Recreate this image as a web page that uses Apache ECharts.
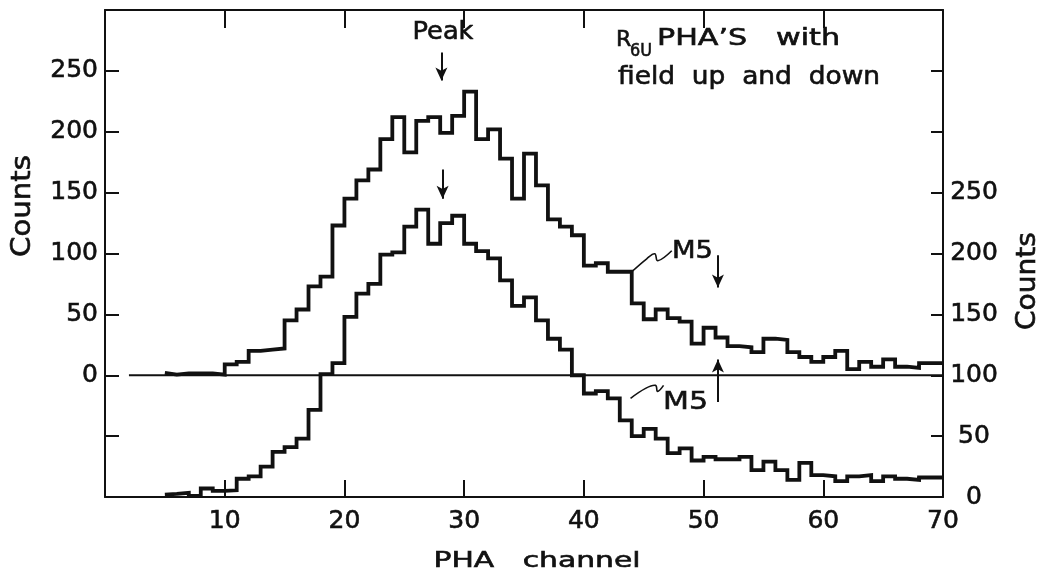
<!DOCTYPE html>
<html>
<head>
<meta charset="utf-8">
<script src="https://cdn.jsdelivr.net/npm/echarts@6/dist/echarts.min.js"></script>
<style>
  html, body { margin: 0; padding: 0; background: #ffffff; }
  #chart { width: 1045px; height: 582px; }
</style>
</head>
<body>
<div id="chart"></div>
<script>
// PHA channel of each histogram bin (bin covers [channel, channel + 1))
const channels = [
  5, 6, 7, 8, 9, 10, 11, 12, 13, 14, 15, 16, 17, 18, 19, 20, 21, 22, 23, 24,
  25, 26, 27, 28, 29, 30, 31, 32, 33, 34, 35, 36, 37, 38, 39, 40, 41, 42, 43, 44,
  45, 46, 47, 48, 49, 50, 51, 52, 53, 54, 55, 56, 57, 58, 59, 60, 61, 62, 63, 64,
  65, 66, 67, 68, 69
];
const lastEdge = 70;

// Upper spectrum, read against the left-hand Counts scale
const upperCounts = [
  2, 0.5, 1.5, 1.5, 1.5, 0.5, 9, 11, 20, 21, 22, 45, 54, 73, 81, 123, 145, 160, 169, 194,
  212, 183, 209, 212, 199, 213, 233, 194, 202, 178, 145, 182, 156, 128, 122, 115, 90, 92, 85, 85,
  59, 46, 54, 47, 44, 26, 39, 31, 24, 23, 19, 30, 29, 19, 15, 11, 15, 20, 5, 11,
  7, 13, 7, 6, 10
];

// Lower spectrum, read against the right-hand Counts scale
const lowerCounts = [
  2, 2.5, 3.5, 1, 7, 5, 5.5, 15, 17, 25, 37, 41, 48, 71.5, 101, 110, 148, 167, 175, 199,
  201, 222, 236, 208, 225, 231, 208, 202, 196, 178, 157, 164, 145, 130, 121, 100, 85, 87, 81, 63,
  50, 56, 48, 36, 40, 30, 33, 31, 31, 33, 22, 29, 22, 14, 28, 18, 17, 13, 17, 18,
  13, 17, 15, 14, 16
];

// Labelled ticks
const xTickLabels = [10, 20, 30, 40, 50, 60, 70];
const leftTickLabels = [0, 50, 100, 150, 200, 250];
const rightTickLabels = [0, 50, 100, 150, 200, 250];

// Zero line of the upper spectrum (left scale)
const baseline = [[2, 0], [70, 0]];

// Arrow annotations: [channel, from, to] on the left scale
const arrows = [
  [28.1, 265, 242],   // "Peak" arrow
  [28.2, 169, 145],   // peak of the lower spectrum
  [51.2, 98.6, 72],   // M5 on the upper spectrum
  [51.2, -22, 13]     // M5 on the lower spectrum
];

const FONT = "'DejaVu Sans', 'Liberation Sans', sans-serif";
const INK = '#111111';

function steps(values) {
  const pts = channels.map((c, i) => [c, values[i]]);
  pts.push([lastEdge, values[values.length - 1]]);
  return pts;
}

const chart = echarts.init(document.getElementById('chart'), null, { renderer: 'canvas' });

const axisLine = { show: true, onZero: false, lineStyle: { color: INK, width: 2 } };
const tickStyle = { color: INK, width: 2 };
const tickText = {
  show: true, color: INK, fontSize: 25, fontFamily: FONT,
  textBorderColor: INK, textBorderWidth: 0.6,
  showMinLabel: true, showMaxLabel: true
};

chart.setOption({
  animation: false,
  backgroundColor: '#ffffff',
  grid: { left: 105, right: 102, top: 10, bottom: 85, outerBoundsMode: 'none', containLabel: false },
  xAxis: [
    {
      type: 'value', min: 0, max: 70, interval: 10, position: 'bottom',
      axisLine: axisLine,
      axisTick: { show: true, inside: true, length: 17, lineStyle: tickStyle },
      axisLabel: Object.assign({}, tickText, {
        margin: 12,
        formatter: v => xTickLabels.includes(v) ? String(v) : ''
      }),
      splitLine: { show: false }
    },
    {
      type: 'value', min: 0, max: 70, interval: 10, position: 'top',
      axisLine: axisLine,
      axisTick: { show: true, inside: true, length: 18, lineStyle: tickStyle },
      axisLabel: { show: false },
      splitLine: { show: false }
    }
  ],
  yAxis: [
    {
      type: 'value', min: -100, max: 300, interval: 50, position: 'left',
      axisLine: axisLine,
      axisTick: { show: true, inside: true, length: 14, lineStyle: tickStyle },
      axisLabel: Object.assign({}, tickText, {
        margin: 7,
        formatter: v => leftTickLabels.includes(v) ? String(v) : ''
      }),
      splitLine: { show: false }
    },
    {
      type: 'value', min: 0, max: 400, interval: 50, position: 'right',
      axisLine: axisLine,
      axisTick: { show: true, inside: true, length: 12, lineStyle: tickStyle },
      axisLabel: Object.assign({}, tickText, {
        margin: 31, align: 'center',
        formatter: v => rightTickLabels.includes(v) ? String(v) : ''
      }),
      splitLine: { show: false }
    }
  ],
  series: [
    {
      name: 'baseline', type: 'line', xAxisIndex: 0, yAxisIndex: 0,
      data: baseline, showSymbol: false, symbol: 'none', silent: true,
      lineStyle: { color: INK, width: 2 }, z: 2
    },
    {
      name: 'upper', type: 'line', xAxisIndex: 0, yAxisIndex: 0,
      data: steps(upperCounts), step: 'start', showSymbol: false, symbol: 'none',
      lineStyle: { color: INK, width: 3.8, join: 'miter' }, z: 3,
      emphasis: { disabled: true },
      markLine: {
        silent: true, animation: false,
        symbol: ['none', 'arrow'], symbolSize: [9, 13],
        label: { show: false },
        lineStyle: { color: INK, width: 2, type: 'solid' },
        emphasis: { disabled: true },
        data: arrows.map(a => [{ coord: [a[0], a[1]] }, { coord: [a[0], a[2]] }])
      }
    },
    {
      name: 'lower', type: 'line', xAxisIndex: 0, yAxisIndex: 1,
      data: steps(lowerCounts), step: 'start', showSymbol: false, symbol: 'none',
      lineStyle: { color: INK, width: 3.8, join: 'miter' }, z: 3,
      emphasis: { disabled: true }
    }
  ]
});

// ---- text and leader annotations ----
const measureCtx = document.createElement('canvas').getContext('2d');
function textWidth(text, font) {
  measureCtx.font = font;
  return measureCtx.measureText(text).width;
}
function label(text, size, x, y, width, align, rotation) {
  const font = size + 'px ' + FONT;
  const s = width ? width / textWidth(text, font) : 1;
  return {
    type: 'text', x: x, y: y, rotation: rotation || 0,
    scaleX: s, scaleY: 1, silent: true, z: 10,
    style: {
      text: text, font: font, fill: INK, stroke: INK, lineWidth: 0.6,
      align: align || 'left', verticalAlign: 'middle'
    }
  };
}

function leader(anchor, offsets, yAxisIndex) {
  const p = chart.convertToPixel({ xAxisIndex: 0, yAxisIndex: yAxisIndex }, anchor);
  return {
    type: 'polyline', silent: true, z: 9,
    shape: { points: offsets.map(o => [p[0] + o[0], p[1] + o[1]]), smooth: 0.4 },
    style: { stroke: INK, lineWidth: 1.6, fill: null }
  };
}

chart.setOption({
  graphic: [
    label('Peak', 24, 443, 33, 61, 'center'),
    label('R', 22, 616, 40, 0, 'left'),
    label('6U', 18, 630, 51, 22, 'left'),
    label('PHA\u2019S   with', 23, 657, 39, 183, 'left'),
    label('field  up  and  down', 24, 618, 78, 262, 'left'),
    label('M5', 25, 672, 251, 41, 'left'),
    label('M5', 25, 663, 402, 45, 'left'),
    label('PHA   channel', 22, 537, 561, 207, 'center'),
    label('Counts', 26, 23, 206, 102, 'center', Math.PI / 2),
    label('Counts', 26, 1028, 281, 98, 'center', Math.PI / 2),
    leader([44, 85], [[0, 0], [15, -13], [23, -18], [26, -11], [40, -21]], 0),
    leader([43.9, 81], [[0, 0], [15, -10], [25, -13], [27, -7], [33, -13]], 1)
  ]
});
</script>
</body>
</html>
